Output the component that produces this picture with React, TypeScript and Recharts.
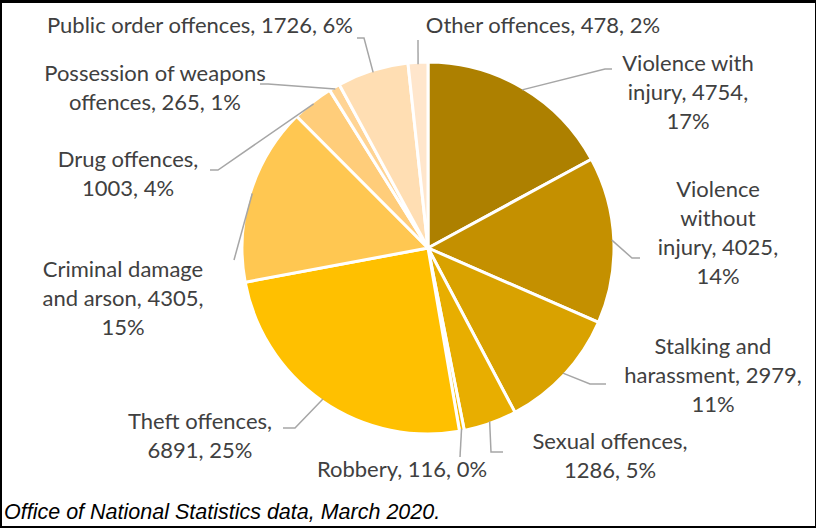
import React from 'react';
import { PieChart, Pie, Cell } from 'recharts';

const categories = [
  'Violence with injury',
  'Violence without injury',
  'Stalking and harassment',
  'Sexual offences',
  'Robbery',
  'Theft offences',
  'Criminal damage and arson',
  'Drug offences',
  'Possession of weapons offences',
  'Public order offences',
  'Other offences',
];

const offences = [4754, 4025, 2979, 1286, 116, 6891, 4305, 1003, 265, 1726, 478];

const colors = [
  '#AD8000', '#C49000', '#D9A200', '#E8AE00', '#F4B800', '#FFC000',
  '#FFC751', '#FFCD7A', '#FFD494', '#FFDEB3', '#FFE6CC',
];

// words per label line
const wraps = [[2, 2, 1], [1, 1, 2, 1], [2, 2, 1], [2, 2], [3], [2, 2], [2, 3, 1], [2, 2], [3, 3], [6], [4]];

// label placement relative to pie centre: text centre x, first line y, elbow, end of leader
const labelLayout = [
  { tx: 260, ty: -186, elbow: [177, -179], end: [184, -179] },
  { tx: 290, ty: -60, elbow: [204, 10], end: [212, 10] },
  { tx: 285, ty: 97, elbow: [162, 136], end: [178, 136] },
  { tx: 182, ty: 192, elbow: [63, 204], end: [75, 204] },
  { tx: -26, ty: 220, elbow: [32, 209], end: [32, 209] },
  { tx: -228, ty: 172, elbow: [-133, 180], end: [-145, 180] },
  { tx: -305, ty: 20, elbow: [-194, 12], end: [-194, 12] },
  { tx: -300, ty: -90, elbow: [-210, -78], end: [-218, -78] },
  { tx: -273, ty: -176, elbow: [-160, -164], end: [-168, -164] },
  { tx: -228, ty: -224, elbow: [-64, -210], end: [-71, -210] },
  { tx: 115, ty: -224, elbow: [-10, -208], end: [-10, -208] },
];

const total = offences.reduce((a, b) => a + b, 0);
const data = categories.map((name, i) => ({ name, value: offences[i] }));

const RAD = Math.PI / 180;
const LINE_H = 29;

const renderLabel = (props: any) => {
  const { cx, cy, midAngle, outerRadius, index, name, value } = props;
  const lay = labelLayout[index];
  const sx = cx + (outerRadius - 2) * Math.cos(-midAngle * RAD);
  const sy = cy + (outerRadius - 2) * Math.sin(-midAngle * RAD);
  const words = `${name}, ${value}, ${Math.round((value / total) * 100)}%`.split(' ');
  const lines: string[] = [];
  let k = 0;
  wraps[index].forEach((n) => {
    lines.push(words.slice(k, k + n).join(' '));
    k += n;
  });
  const pts = [
    [sx, sy],
    [cx + lay.elbow[0], cy + lay.elbow[1]],
    [cx + lay.end[0], cy + lay.end[1]],
  ];
  return (
    <g key={`lab-${index}`}>
      <polyline
        points={pts.map((p) => p.join(',')).join(' ')}
        fill="none"
        stroke="#A6A6A6"
        strokeWidth={1.5}
      />
      {lines.map((ln, j) => (
        <text
          key={j}
          x={cx + lay.tx}
          y={cy + lay.ty + j * LINE_H}
          textAnchor="middle"
          dominantBaseline="central"
          fill="#404040"
          fontSize={22}
          fontFamily="Lato, 'Open Sans', sans-serif"
        >
          {ln}
        </text>
      ))}
    </g>
  );
};

const App = () => {
  return (
    <div
      style={{
        position: 'absolute',
        left: 0,
        top: 0,
        width: 816,
        height: 528,
        boxSizing: 'border-box',
        borderTop: '3px solid #000',
        borderLeft: '2px solid #000',
        borderRight: '1px solid #000',
        borderBottom: '2px solid #000',
        background: '#fff',
        overflow: 'hidden',
      }}
    >
      <div style={{ position: 'absolute', left: -2, top: -3 }}>
        <PieChart width={816} height={528} margin={{ top: 0, right: 0, bottom: 0, left: 0 }}>
          <Pie
            data={data}
            dataKey="value"
            nameKey="name"
            cx={428}
            cy={248}
            outerRadius={186}
            startAngle={90}
            endAngle={-270}
            stroke="#fff"
            strokeWidth={3}
            label={renderLabel}
            labelLine={false}
            isAnimationActive={false}
          >
            {data.map((d, i) => (
              <Cell key={d.name} fill={colors[i]} />
            ))}
          </Pie>
        </PieChart>
      </div>
      <div
        style={{
          position: 'absolute',
          left: 2,
          top: 497,
          fontFamily: "'Liberation Sans', Arial, sans-serif",
          fontStyle: 'italic',
          fontSize: 21.5,
          lineHeight: '24px',
          color: '#000',
          whiteSpace: 'nowrap',
        }}
      >
        Office of National Statistics data, March 2020.
      </div>
    </div>
  );
};

export default App;
